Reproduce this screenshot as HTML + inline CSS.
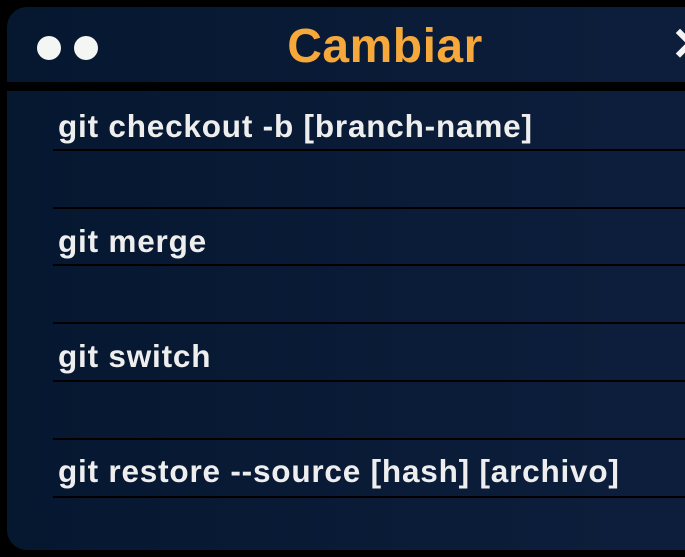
<!DOCTYPE html>
<html><head><style>
html,body{margin:0;padding:0;width:685px;height:557px;overflow:hidden;background:#000;font-family:"Liberation Sans",sans-serif;}
.panel{position:absolute;left:7px;top:7px;width:720px;height:543px;border-radius:20px;background:linear-gradient(90deg,#061730,#0d1f3d);overflow:hidden}
.band{position:absolute;left:0;top:75px;width:100%;height:9px;background:#000}
.dot{position:absolute;top:29px;width:24px;height:24px;border-radius:50%;background:#f4f6f4}
.title{position:absolute;left:0;width:756px;top:12px;text-align:center;color:#f6a83a;font-weight:bold;font-size:48px;line-height:56px;letter-spacing:0.5px}
.x{position:absolute;left:664px;top:10px;color:#f4f4f4;font-weight:bold;font-size:46px}
.t{position:absolute;left:51px;color:#eeeeee;font-weight:bold;font-size:31.5px;line-height:36px;letter-spacing:0.8px}
.l{position:absolute;left:46px;width:700px;height:2px;background:#000}
</style></head><body>
<div class="panel">
<div class="dot" style="left:30px"></div><div class="dot" style="left:67px"></div>
<div class="title">Cambiar</div>
<div class="x">✕</div>
<div class="band"></div>
<div class="t" style="top:101px">git checkout -b [branch-name]</div>
<div class="l" style="top:142px"></div>
<div class="l" style="top:200px"></div>
<div class="t" style="top:216px">git merge</div>
<div class="l" style="top:257px"></div>
<div class="l" style="top:315px"></div>
<div class="t" style="top:331px">git switch</div>
<div class="l" style="top:373px"></div>
<div class="l" style="top:431px"></div>
<div class="t" style="top:446px">git restore --source [hash] [archivo]</div>
<div class="l" style="top:489px"></div>
</div>
</body></html>
